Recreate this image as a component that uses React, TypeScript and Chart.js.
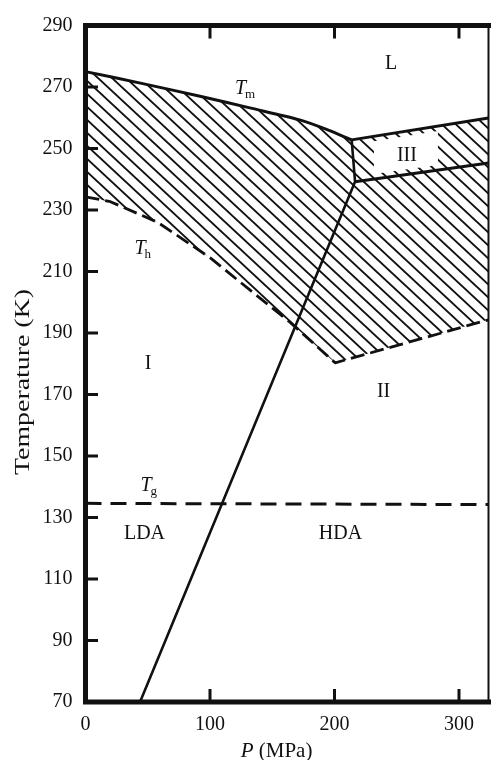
import React, { useEffect, useRef } from "react";
import { Chart, registerables } from "chart.js";

Chart.register(...registerables);

// ---- axes ----
const xTicks = [0, 100, 200, 300];
const yTicks = [70, 90, 110, 130, 150, 170, 190, 210, 230, 250, 270, 290];
const X_MIN = 0;
const X_MAX = 323.7;
const Y_MIN = 70;
const Y_MAX = 290;

// ---- curves (P in MPa, T in K) ----
// melting line Tm
const tmP = [0, 46, 92, 132, 172, 195, 213.8];
const tmT = [275, 271.1, 267, 263.2, 259.3, 256, 252.8];
// ice III upper boundary
const iiiUpperP = [213.8, 323.7];
const iiiUpperT = [252.8, 259.9];
// ice III lower boundary
const iiiLowerP = [216.5, 323.7];
const iiiLowerT = [239.2, 245.3];
// I / II boundary (incl. short segment at triple point)
const iiiP = [213.8, 216.5, 43.8];
const iiiT = [252.8, 239.2, 70];
// homogeneous nucleation Th
const thP = [0, 20, 58, 100, 132, 164, 200.5];
const thT = [234.3, 232.7, 226, 214.5, 204, 193.6, 180.3];
// lower boundary of the hatched region (ice II side)
const lowP = [200.5, 323.7];
const lowT = [180.3, 194.3];
// glass transition Tg
const tgP = [0, 323.7];
const tgT = [134.6, 134.2];

// ---- region labels ----
const labelText = ["L", "III", "I", "II", "LDA", "HDA"];
const labelP = [245.4, 258.2, 50.2, 239.4, 47.4, 204.8];
const labelT = [278.1, 248.0, 180.4, 171.3, 125.3, 125.1];
const symMain = ["T", "T", "T"];
const symSub = ["m", "h", "g"];
const symP = [124.5, 43.8, 48.6];
const symT = [269.8, 217.8, 140.9];

const FONT = "'Liberation Serif', 'Times New Roman', serif";
const INK = "#111";

const pts = (ps: number[], ts: number[]) => ps.map((p, i) => ({ x: p, y: ts[i] }));

function hatchPattern(): CanvasPattern | string {
  const W = 14;
  const H = 13;
  const c = document.createElement("canvas");
  c.width = W;
  c.height = H;
  const g = c.getContext("2d");
  if (!g) return INK;
  g.strokeStyle = INK;
  g.lineWidth = 1.9;
  for (let k = -2; k <= 2; k++) {
    g.beginPath();
    g.moveTo(-W, -H + k * H);
    g.lineTo(2 * W, 2 * H + k * H);
    g.stroke();
  }
  const pat = g.createPattern(c, "repeat");
  return pat || INK;
}

export default function App() {
  const ref = useRef<HTMLCanvasElement | null>(null);

  useEffect(() => {
    if (!ref.current) return;

    const hatchPoly = [
      ...pts(tmP, tmT),
      { x: iiiUpperP[1], y: iiiUpperT[1] },
      { x: lowP[1], y: lowT[1] },
      ...pts(thP, thT).reverse(),
      { x: tmP[0], y: tmT[0] },
    ];

    const line = (data: any[], width: number, dash: number[] = [], tension = 0) => ({
      data,
      borderColor: INK,
      borderWidth: width,
      borderDash: dash,
      pointRadius: 0,
      fill: false,
      tension,
      borderCapStyle: "butt",
      borderJoinStyle: "round",
    });

    const decor = {
      id: "decor",
      afterDatasetDraw(chart: any, args: any) {
        if (args.index !== 0) return;
        // clear hatch around the "III" label
        const { ctx, scales } = chart;
        const xs = scales.x;
        const ys = scales.y;
        const lerp = (P: number[], T: number[], px: number) => {
          const x0 = xs.getPixelForValue(P[0]);
          const x1 = xs.getPixelForValue(P[1]);
          const y0 = ys.getPixelForValue(T[0]);
          const y1 = ys.getPixelForValue(T[1]);
          return y0 + ((px - x0) * (y1 - y0)) / (x1 - x0);
        };
        const cx = xs.getPixelForValue(labelP[1]);
        const a = cx - 33;
        const b = cx + 31;
        ctx.save();
        ctx.fillStyle = "#fff";
        ctx.beginPath();
        ctx.moveTo(a, lerp(iiiUpperP, iiiUpperT, a) + 5);
        ctx.lineTo(b, lerp(iiiUpperP, iiiUpperT, b) + 5);
        ctx.lineTo(b, lerp(iiiLowerP, iiiLowerT, b) - 5);
        ctx.lineTo(a, lerp(iiiLowerP, iiiLowerT, a) - 5);
        ctx.closePath();
        ctx.fill();
        ctx.restore();
      },
      afterDraw(chart: any) {
        const { ctx, chartArea: ca, scales } = chart;
        const xs = scales.x;
        const ys = scales.y;
        ctx.save();
        ctx.fillStyle = INK;
        ctx.strokeStyle = INK;
        // frame
        ctx.lineCap = "butt";
        ctx.lineWidth = 5;
        ctx.beginPath();
        ctx.moveTo(ca.left, ca.top - 2.5);
        ctx.lineTo(ca.left, ca.bottom + 2.5);
        ctx.moveTo(ca.left - 2.5, ca.bottom);
        ctx.lineTo(chart.width, ca.bottom);
        ctx.moveTo(ca.left - 2.5, ca.top);
        ctx.lineTo(chart.width, ca.top);
        ctx.stroke();
        ctx.lineWidth = 2;
        ctx.beginPath();
        ctx.moveTo(ca.right, ca.top);
        ctx.lineTo(ca.right, ca.bottom);
        ctx.stroke();
        // inward ticks
        ctx.lineWidth = 3;
        ctx.beginPath();
        for (const v of yTicks) {
          if (v === Y_MIN || v === Y_MAX) continue;
          const y = ys.getPixelForValue(v);
          ctx.moveTo(ca.left, y);
          ctx.lineTo(ca.left + 12.5, y);
        }
        for (const v of xTicks) {
          if (v === X_MIN) continue;
          const x = xs.getPixelForValue(v);
          ctx.moveTo(x, ca.bottom);
          ctx.lineTo(x, ca.bottom - 13);
          ctx.moveTo(x, ca.top);
          ctx.lineTo(x, ca.top + 13);
        }
        ctx.stroke();

        // region labels
        ctx.textAlign = "center";
        ctx.textBaseline = "alphabetic";
        ctx.font = `20px ${FONT}`;
        labelText.forEach((t, i) => {
          const x = xs.getPixelForValue(labelP[i]);
          const y = ys.getPixelForValue(labelT[i]);
          ctx.fillText(t, x, y + 6.6);
        });
        symMain.forEach((t, i) => {
          const x = xs.getPixelForValue(symP[i]);
          const y = ys.getPixelForValue(symT[i]) + 6.6;
          ctx.font = `italic 20px ${FONT}`;
          ctx.textAlign = "center";
          ctx.fillText(t, x, y);
          const w = ctx.measureText(t).width;
          ctx.font = `13px ${FONT}`;
          ctx.textAlign = "left";
          ctx.fillText(symSub[i], x + w / 2 - 1, y + 4);
        });

        // x title: P (MPa)
        ctx.textAlign = "left";
        ctx.font = `italic 21px ${FONT}`;
        const pW = ctx.measureText("P").width;
        ctx.font = `21px ${FONT}`;
        const restW = ctx.measureText(" (MPa)").width;
        const tx = 276.5 - (pW + restW) / 2;
        ctx.font = `italic 21px ${FONT}`;
        ctx.fillText("P", tx, 757);
        ctx.font = `21px ${FONT}`;
        ctx.fillText(" (MPa)", tx + pW, 757);

        // y title (rotated, slightly stretched along its length)
        ctx.translate(29, 382);
        ctx.rotate(-Math.PI / 2);
        ctx.font = `21px ${FONT}`;
        const yt = "Temperature (K)";
        const natural = ctx.measureText(yt).width;
        const stretch = 186 / natural;
        ctx.scale(stretch, 1);
        ctx.textAlign = "center";
        ctx.fillText(yt, 0, 0);
        ctx.restore();
      },
    };

    const chart = new Chart(ref.current, {
      type: "line",
      data: {
        datasets: [
          {
            data: hatchPoly,
            borderWidth: 0,
            borderColor: "rgba(0,0,0,0)",
            backgroundColor: hatchPattern() as any,
            pointRadius: 0,
            fill: "shape",
            tension: 0,
          } as any,
          line(pts(tmP, tmT), 3, [], 0.3),
          line(pts(iiiUpperP, iiiUpperT), 3),
          line(pts(iiiLowerP, iiiLowerT), 3),
          line(pts(iiiP, iiiT), 2.6),
          line([...pts(thP, thT), ...pts(lowP, lowT).slice(1)], 2.8, [14, 6]),
          line(pts(tgP, tgT), 3, [16, 9]),
        ],
      },
      options: {
        animation: false,
        responsive: false,
        events: [],
        layout: { padding: { top: 25.5, right: 2.5, bottom: 0, left: 0 } },
        plugins: {
          legend: { display: false },
          tooltip: { enabled: false },
          title: { display: false },
        },
        scales: {
          x: {
            type: "linear",
            min: X_MIN,
            max: X_MAX,
            grid: { display: false, drawTicks: false },
            border: { display: false },
            afterBuildTicks: (s: any) => {
              s.ticks = xTicks.map((v) => ({ value: v }));
            },
            afterFit: (s: any) => {
              s.height = 58;
            },
            ticks: {
              font: { family: FONT, size: 20 },
              color: INK,
              padding: 11,
              maxRotation: 0,
              autoSkip: false,
            },
          },
          y: {
            type: "linear",
            min: Y_MIN,
            max: Y_MAX,
            grid: { display: false, drawTicks: false },
            border: { display: false },
            afterBuildTicks: (s: any) => {
              s.ticks = yTicks.map((v) => ({ value: v }));
            },
            afterFit: (s: any) => {
              s.width = 85.5;
            },
            ticks: {
              font: { family: FONT, size: 20 },
              color: INK,
              padding: 13,
              autoSkip: false,
            },
          },
        },
      },
      plugins: [decor],
    } as any);

    return () => chart.destroy();
  }, []);

  return (
    <div style={{ position: "fixed", left: 0, top: 0, width: 491, height: 760, background: "#fff" }}>
      <canvas ref={ref} width={491} height={760} style={{ display: "block" }} />
    </div>
  );
}
